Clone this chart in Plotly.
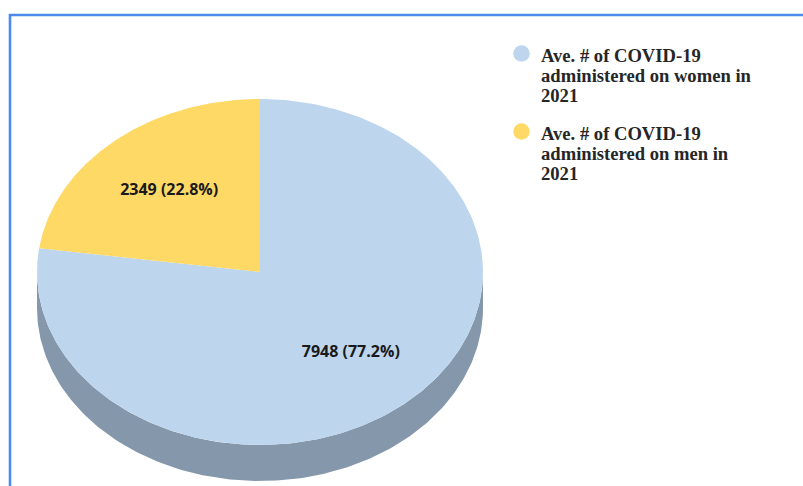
import numpy as np
import plotly.graph_objects as go

# ---- data ----
labels = [
    "Ave. # of COVID-19 administered on women in 2021",
    "Ave. # of COVID-19 administered on men in 2021",
]
legend_lines = [
    ["Ave. # of COVID-19", "administered on women in", "2021"],
    ["Ave. # of COVID-19", "administered on men in", "2021"],
]
values = [7948, 2349]
top_colors = ["#BDD6EE", "#FFD966"]
side_colors = ["#8497AB", "#B89A45"]

# ---- geometry of the tilted pie (screen units, y grows downward) ----
W, H = 803, 486
CX, CY = 260, 272      # centre of the top face
RX, RY = 223, 173      # radii of the top ellipse
DEPTH = 36             # thickness of the disc
LABEL_R = 0.62         # label distance as fraction of radius


def pt(phi_deg, r=1.0, dy=0.0):
    """Point on the ellipse at clockwise angle phi from 12 o'clock."""
    p = np.radians(phi_deg)
    return CX + RX * r * np.sin(p), CY - RY * r * np.cos(p) + dy


total = float(sum(values))
fracs = [v / total for v in values]
starts = np.concatenate([[0.0], np.cumsum(fracs)[:-1]]) * 360.0
ends = np.cumsum(fracs) * 360.0

fig = go.Figure()

# side wall: only the front half (90..270 deg) is visible
for s, e, col in zip(starts, ends, side_colors):
    a0, a1 = max(s, 90.0), min(e, 270.0)
    if a1 <= a0:
        continue
    phis = np.linspace(a0, a1, 200)
    xt, yt = pt(phis)
    xb, yb = pt(phis[::-1], dy=DEPTH)
    fig.add_trace(go.Scatter(
        x=np.concatenate([xt, xb]), y=np.concatenate([yt, yb]),
        fill="toself", fillcolor=col, mode="lines",
        line=dict(width=0, color=col), hoverinfo="skip", showlegend=False,
    ))

# top face slices
for s, e, col, lab in zip(starts, ends, top_colors, labels):
    phis = np.linspace(s, e, 300)
    xs, ys = pt(phis)
    fig.add_trace(go.Scatter(
        x=np.concatenate([[CX], xs, [CX]]), y=np.concatenate([[CY], ys, [CY]]),
        fill="toself", fillcolor=col, mode="lines",
        line=dict(width=0, color=col), name=lab, hoverinfo="name",
        showlegend=False,
    ))

# value labels
mids = (starts + ends) / 2.0
lx, ly = pt(mids, r=LABEL_R)
fig.add_trace(go.Scatter(
    x=lx, y=ly, mode="text",
    text=[f"{v} ({f * 100:.1f}%)" for v, f in zip(values, fracs)],
    textfont=dict(family="Open Sans", size=16, color="#1a1a1a", weight="bold"),
    textposition="middle center", hoverinfo="skip", showlegend=False,
))

# legend: coloured dots + wrapped serif labels
LEG_X_DOT, LEG_X_TXT = 521.5, 539
LEG_TOP = [53.5, 131.5]
LINE_STEP = 20.4
fig.add_trace(go.Scatter(
    x=[LEG_X_DOT] * len(labels), y=LEG_TOP, mode="markers",
    marker=dict(size=16.5, color=top_colors, line=dict(width=0)),
    hoverinfo="skip", showlegend=False,
))
for y0, lines in zip(LEG_TOP, legend_lines):
    for i, line in enumerate(lines):
        fig.add_annotation(
            x=LEG_X_TXT, y=y0 + 1.5 + i * LINE_STEP, xref="x", yref="y",
            text=line, showarrow=False, xanchor="left", yanchor="middle",
            font=dict(family="Liberation Serif", size=18.6, color="#262626",
                      weight="bold"),
        )

# outer frame
fig.add_shape(type="rect", xref="x", yref="y", x0=10, y0=15, x1=W + 20, y1=H + 20,
              line=dict(color="#4D8AF0", width=2.6), fillcolor="rgba(0,0,0,0)",
              layer="below")

fig.update_xaxes(range=[0, W], visible=False, fixedrange=True)
fig.update_yaxes(range=[H, 0], visible=False, fixedrange=True)
fig.update_layout(
    width=W, height=H, margin=dict(l=0, r=0, t=0, b=0),
    paper_bgcolor="white", plot_bgcolor="white", showlegend=False,
)

fig.write_html("out.html")
